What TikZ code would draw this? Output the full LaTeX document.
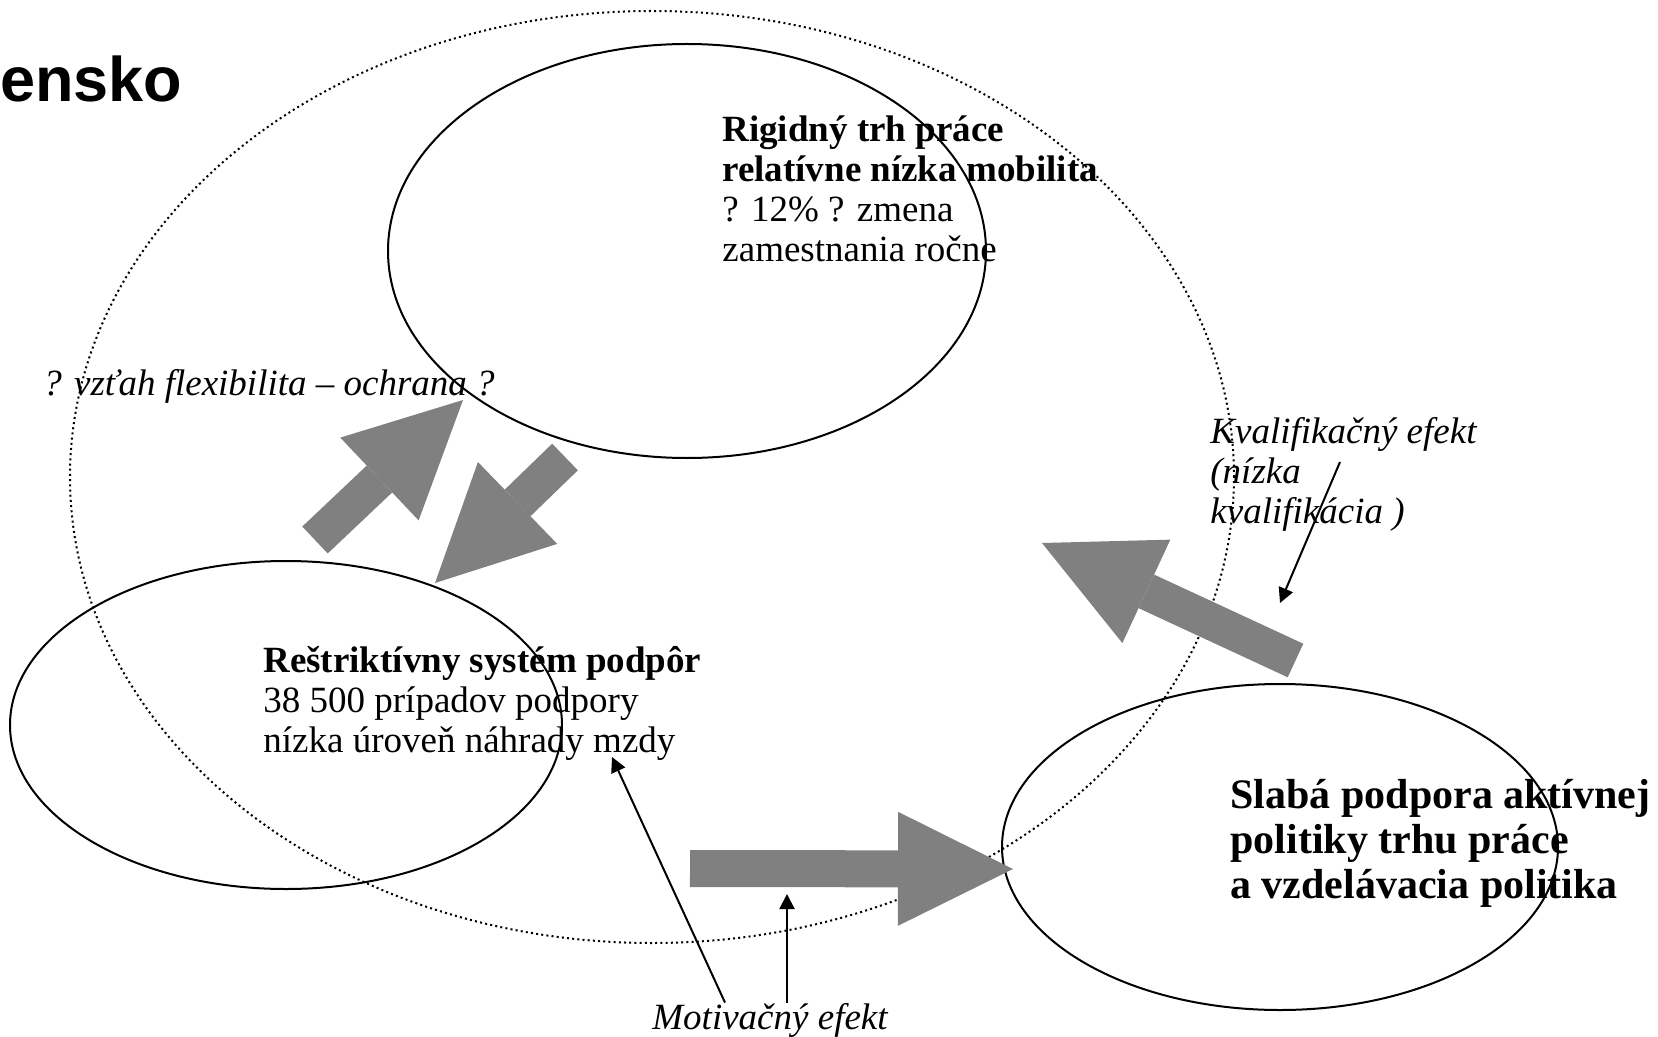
\documentclass[tikz,border=0pt]{standalone}
\usepackage{fontspec}
\setmainfont{Liberation Serif}
\newfontfamily\headfont{Liberation Sans}
\usetikzlibrary{shapes.geometric,arrows.meta}

\begin{document}
\begin{tikzpicture}[x=0.5pt, y=-0.5pt,
        oval/.style={draw, ellipse, line width=1pt, inner sep=0pt},
        dottedoval/.style={oval, dash pattern=on 1pt off 1.6pt},
        txt/.style={anchor=base west, inner sep=0pt, align=left, font=\fontsize{18.5}{20}\selectfont},
        bigtxt/.style={txt, font=\fontsize{21}{22.5}\selectfont\bfseries},
        blockarrow/.style={draw=gray, line width=18.5pt, -{Triangle[width=57pt, length=57.5pt, line width=0pt]}},
        thinarrow/.style={line width=1pt, -{Triangle[width=7.5pt, length=7.5pt]}}]
        \useasboundingbox (0,0) rectangle (1658,1037);

        \node[dottedoval, minimum width=582pt, minimum height=466pt] (trh) at (652,477) {};
        \node[oval, minimum width=299pt, minimum height=207pt] (rigid) at (687,251) {};
        \node[oval, minimum width=276pt, minimum height=164pt] (podpory) at (286,725) {};
        \node[oval, minimum width=278pt, minimum height=163pt] (politika) at (1280,847) {};

        \node[anchor=base west, inner sep=0pt, font=\headfont\fontsize{31.5}{36}\selectfont\bfseries] (title) at (0,102) {ensko};
        \node[txt] (rigidtxt) at (722,262) {\textbf{Rigidný trh práce}\\\textbf{relatívne nízka mobilita}\\? 12\% ? zmena\\zamestnania ročne};
        \node[txt, font=\fontsize{18.5}{20}\selectfont\itshape] (vztah) at (43,395) {? vzťah flexibilita -- ochrana ?};
        \node[txt, font=\fontsize{18.5}{20}\selectfont\itshape] (kvalif) at (1210,523) {Kvalifikačný efekt\\(nízka\\kvalifikácia )};
        \node[txt] (podporytxt) at (263,752) {\textbf{Reštriktívny systém podpôr}\\38 500 prípadov podpory\\nízka úroveň náhrady mzdy};
        \node[bigtxt] (politikatxt) at (1230,898) {Slabá podpora aktívnej\\politiky trhu práce\\a vzdelávacia politika};
        \node[txt, font=\fontsize{18.5}{20}\selectfont\itshape] (motiv) at (652,1029) {Motivačný efekt};

        \coordinate (up1) at (315,540);
        \coordinate (up2) at (463,400);
        \coordinate (down1) at (565,457);
        \coordinate (down2) at (435,583);
        \coordinate (back1) at (1295.5,660.5);
        \coordinate (back2) at (1042,543);
        \coordinate (fwd1) at (690,868.5);
        \coordinate (fwd2) at (1013,869);
        \draw[blockarrow] (up1) -- (up2);
        \draw[blockarrow] (down1) -- (down2);
        \draw[blockarrow] (back1) -- (back2);
        \draw[blockarrow] (fwd1) -- (fwd2);

        \coordinate (kstart) at (1340,462);
        \coordinate (ktip) at (1280,603);
        \coordinate (mtip1) at (612,757);
        \coordinate (mtip2) at (787,894);
        \draw[thinarrow] (kstart) -- (ktip);
        \draw[thinarrow] (motiv.north west -| 725,0) -- (mtip1);
        \draw[thinarrow] (motiv.north west -| mtip2) -- (mtip2);
    \end{tikzpicture}
\end{document}
